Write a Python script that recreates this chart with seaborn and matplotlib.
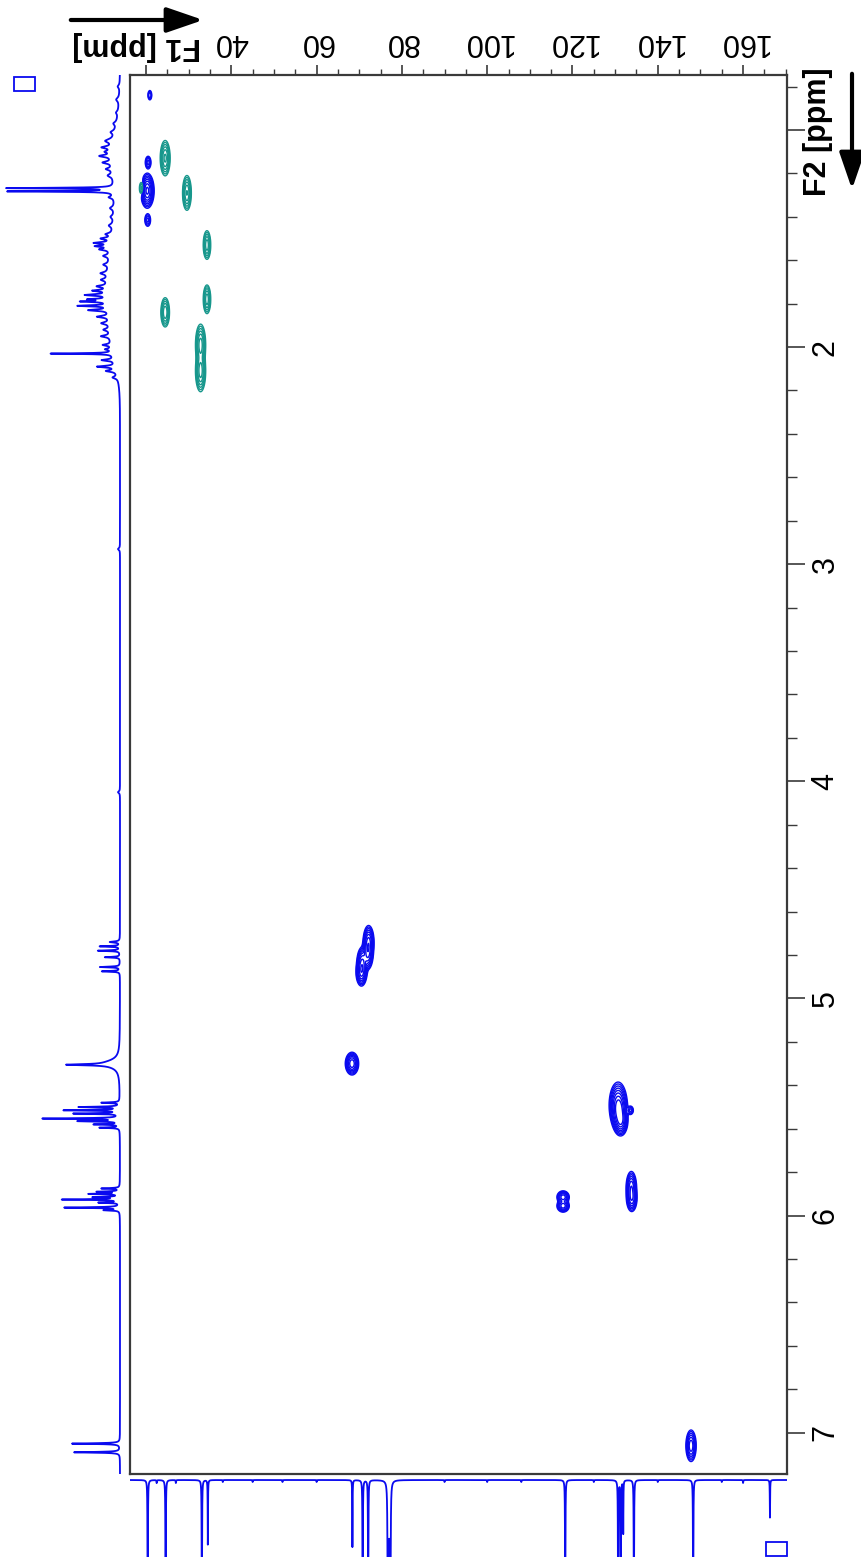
import numpy as np
import pandas as pd
import matplotlib
matplotlib.use("Agg")
import matplotlib.pyplot as plt
from matplotlib.patches import Rectangle, FancyArrowPatch
import seaborn as sns

# ---------------- data ----------------
# axis ranges (ppm)
F1_RANGE = (16.25, 170.3)      # 13C
F2_RANGE = (0.747, 7.19)       # 1H
F1_TICKS = [20, 40, 60, 80, 100, 120, 140, 160]
F1_TICK_LABELS = ["", "40", "60", "80", "100", "120", "140", "160"]
F2_TICKS = [1, 2, 3, 4, 5, 6, 7]
F2_TICK_LABELS = ["", "2", "3", "4", "5", "6", "7"]

# HSQC cross peaks: 13C shift, 1H shift, 13C width, 1H width, amplitude (sign = phase)
XP_F1 = [20.9, 20.5, 20.3, 20.4, 19.2, 24.5, 29.6, 34.3, 34.3, 24.5, 32.8, 32.8,
         72.2, 72.0, 70.7, 70.5, 68.3, 117.8, 117.8, 130.7, 131.0, 131.4, 133.6, 133.8, 133.9, 147.8]
XP_F2 = [0.84, 1.15, 1.28, 1.415, 1.27, 1.13, 1.29, 1.53, 1.78, 1.84, 1.99, 2.11,
         4.74, 4.79, 4.84, 4.88, 5.30, 5.915, 5.955, 5.49, 5.53, 5.565, 5.515, 5.87, 5.92, 7.06]
XP_W1 = [0.25, 0.35, 0.6, 0.35, 0.4, 0.5, 0.45, 0.4, 0.4, 0.45, 0.5, 0.5,
         0.5, 0.5, 0.5, 0.5, 0.6, 0.6, 0.6, 0.8, 0.7, 0.6, 0.35, 0.5, 0.5, 0.5]
XP_W2 = [0.012, 0.015, 0.03, 0.015, 0.02, 0.035, 0.035, 0.03, 0.03, 0.03, 0.04, 0.04,
         0.03, 0.03, 0.03, 0.025, 0.02, 0.012, 0.012, 0.04, 0.035, 0.025, 0.01, 0.03, 0.025, 0.03]
XP_AMP = [0.4, 0.5, 3.0, 0.5, -0.6, -1.2, -1.1, -0.9, -0.9, -1.0, -1.4, -1.4,
          2.0, 2.0, 2.0, 1.8, 2.5, 1.5, 1.5, 2.5, 2.5, 2.0, 0.5, 1.6, 1.6, 1.5]

# 1D 1H projection: position (ppm), height, half width (ppm)
H_POS = [0.80, 0.86, 0.92, 0.97, 1.01, 1.05, 1.08, 1.10, 1.12, 1.15, 1.18, 1.21,
         1.268, 1.283, 1.31, 1.36, 1.40, 1.44,
         1.48, 1.50, 1.52, 1.535, 1.55, 1.58, 1.62, 1.66, 1.69,
         1.72, 1.74, 1.76, 1.78, 1.79, 1.81, 1.83, 1.86, 1.89, 1.92,
         1.95, 1.99, 2.01, 2.03, 2.06, 2.09, 2.11, 2.14, 2.93, 4.05,
         4.74, 4.76, 4.78, 4.81, 4.855, 4.875, 5.30, 5.305,
         5.48, 5.50, 5.515, 5.53, 5.553, 5.565, 5.58, 5.595,
         5.875, 5.89, 5.90, 5.915, 5.926, 5.94, 5.963, 5.975,
         7.05, 7.09]
H_HEIGHT = [2, 3, 2, 3, 4, 8, 10, 6, 12, 9, 6, 5,
            106, 106, 5, 4, 3, 4,
            6, 10, 16, 14, 10, 6, 5, 7, 6,
            10, 14, 22, 18, 26, 30, 20, 12, 8, 6,
            9, 8, 6, 62, 12, 18, 10, 5, 2, 2,
            10, 20, 22, 15, 20, 18, 15, 40,
            18, 40, 55, 45, 76, 40, 25, 20,
            18, 22, 30, 25, 57, 20, 55, 15,
            48, 46]
H_WIDTH = [0.008, 0.01, 0.008, 0.008, 0.008, 0.01, 0.006, 0.006, 0.006, 0.006, 0.006, 0.008,
           0.002, 0.002, 0.006, 0.008, 0.008, 0.008,
           0.006, 0.005, 0.004, 0.004, 0.005, 0.006, 0.006, 0.006, 0.006,
           0.005, 0.004, 0.004, 0.003, 0.003, 0.003, 0.004, 0.005, 0.006, 0.006,
           0.005, 0.004, 0.004, 0.002, 0.004, 0.004, 0.005, 0.006, 0.005, 0.005,
           0.003, 0.002, 0.002, 0.002, 0.002, 0.002, 0.02, 0.003,
           0.002, 0.002, 0.002, 0.002, 0.002, 0.002, 0.002, 0.002,
           0.002, 0.002, 0.002, 0.002, 0.002, 0.002, 0.002, 0.002,
           0.002, 0.002]
# broad aliphatic envelope: centers, heights, half widths
HUMP_POS = [1.12, 1.45, 1.72, 1.98]
HUMP_HEIGHT = [7, 5, 11, 7]
HUMP_WIDTH = [0.12, 0.15, 0.14, 0.1]

# 1D 13C projection: position (ppm), height, half width (ppm)
C_POS = [20.4, 24.6, 33.1, 34.5, 68.4, 70.8, 72.1, 76.7, 77.0, 77.3,
         118.3, 130.7, 131.3, 131.9, 134.4, 148.3, 166.3,
         22.5, 27.0, 38.0, 45.0, 52.0, 60.0, 90.0, 100.0, 108.0, 125.0, 140.0, 155.0, 160.0]
C_HEIGHT = [200, 200, 200, 65, 67, 200, 200, 200, 200, 200,
            200, 200, 200, 53, 200, 200, 38,
            3, 3, 2, 2, 2, 2, 2, 2, 2, 2, 2, 2, 3]
C_WIDTH = [0.04, 0.04, 0.04, 0.04, 0.04, 0.04, 0.04, 0.06, 0.06, 0.06,
           0.04, 0.04, 0.04, 0.04, 0.04, 0.04, 0.04,
           0.05, 0.05, 0.05, 0.05, 0.05, 0.05, 0.05, 0.05, 0.05, 0.05, 0.05, 0.05, 0.05]

BLUE = "#0a0aef"
TEAL = "#17978c"
FRAME = "#3a3a3a"

# ---------------- figure ----------------
sns.set_theme(style="white")
plt.rcParams["font.family"] = ["Liberation Sans", "DejaVu Sans"]
plt.rcParams["text.color"] = "black"

W, H = 862, 1557
fig = plt.figure(figsize=(W / 100, H / 100), dpi=100)

def rect(x0, y0, x1, y1):
    return [x0 / W, 1 - y1 / H, (x1 - x0) / W, (y1 - y0) / H]

ax = fig.add_axes(rect(130, 75, 787, 1474))
ax_h = fig.add_axes(rect(0, 75, 125, 1474), sharey=ax)
ax_c = fig.add_axes(rect(130, 1476, 787, 1557), sharex=ax)

# ---- 2D spectrum ----
f1 = np.linspace(F1_RANGE[0], F1_RANGE[1], 1400)
f2 = np.linspace(F2_RANGE[0], F2_RANGE[1], 2600)
Z = np.zeros((f2.size, f1.size))
for c1, c2, w1, w2, a in zip(XP_F1, XP_F2, XP_W1, XP_W2, XP_AMP):
    g1 = np.exp(-0.5 * ((f1 - c1) / w1) ** 2)
    g2 = np.exp(-0.5 * ((f2 - c2) / w2) ** 2)
    Z += a * np.outer(g2, g1)

levels = [0.08, 0.14, 0.24, 0.4, 0.65, 1.05, 1.7, 2.6]
ax.contour(f1, f2, Z, levels=levels, colors=BLUE, linewidths=1.0)
ax.contour(f1, f2, -Z, levels=levels, colors=TEAL, linewidths=1.0)

ax.set_xlabel("")
ax.set_ylabel("")
ax.xaxis.tick_top()
ax.yaxis.tick_right()
ax.set_xticks(F1_TICKS)
ax.set_xticklabels(F1_TICK_LABELS)
ax.set_xticks(np.arange(20, 171, 5), minor=True)
ax.set_yticks(F2_TICKS)
ax.set_yticklabels(F2_TICK_LABELS)
ax.set_yticks(np.arange(0.8, 7.19, 0.2), minor=True)
ax.tick_params(axis="x", which="major", top=True, bottom=False, direction="out",
               length=7, width=1.2, color=FRAME, labelsize=22, labelrotation=180,
               pad=6, labelcolor="black")
ax.tick_params(axis="x", which="minor", top=True, bottom=False, direction="out",
               length=4, width=1.0, color=FRAME)
ax.tick_params(axis="y", which="major", right=True, left=False, direction="out",
               length=13, width=1.2, color=FRAME, labelsize=22, labelrotation=90,
               pad=4, labelcolor="black")
ax.tick_params(axis="y", which="minor", right=True, left=False, direction="out",
               length=7, width=1.0, color=FRAME)
for lab in ax.get_yticklabels():
    lab.set_verticalalignment("center")
for sp in ax.spines.values():
    sp.set_color(FRAME)
    sp.set_linewidth(1.6)
    sp.set_visible(True)
ax.grid(False)

# ---- 1H projection (left) ----
ph = np.linspace(F2_RANGE[0], F2_RANGE[1], 14000)
ih = np.zeros_like(ph)
for p, h, w in zip(HUMP_POS, HUMP_HEIGHT, HUMP_WIDTH):
    ih += h * np.exp(-0.5 * ((ph - p) / w) ** 2)
for p, h, w in zip(H_POS, H_HEIGHT, H_WIDTH):
    ih += h * w ** 2 / ((ph - p) ** 2 + w ** 2)
df_h = pd.DataFrame({"ppm": ph, "intensity": ih})
sns.lineplot(data=df_h, x="intensity", y="ppm", sort=False, estimator=None,
             orient="y", color=BLUE, linewidth=1.3, ax=ax_h)
ax_h.set_xlim(120, -5)
ax_h.axis("off")

# ---- 13C projection (bottom) ----
pc = np.linspace(F1_RANGE[0], F1_RANGE[1], 16000)
ic = np.zeros_like(pc)
for p, h, w in zip(C_POS, C_HEIGHT, C_WIDTH):
    ic += h * w ** 2 / ((pc - p) ** 2 + w ** 2)
df_c = pd.DataFrame({"ppm": pc, "intensity": ic})
sns.lineplot(data=df_c, x="ppm", y="intensity", sort=False, estimator=None,
             color=BLUE, linewidth=1.3, ax=ax_c)
ax_c.set_ylim(77, -4)
ax_c.axis("off")
ax.set_xlim(*F1_RANGE)
ax.set_ylim(F2_RANGE[1], F2_RANGE[0])

# ---- axis titles and direction arrows ----
fig.text(137 / W, 1 - 46 / H, "F1 [ppm]", rotation=180, fontsize=22,
         fontweight="bold", ha="center", va="center", color="black")
fig.text(818 / W, 1 - 132 / H, "F2 [ppm]", rotation=90, fontsize=22,
         fontweight="bold", ha="center", va="center", color="black")
fig.patches.append(FancyArrowPatch(
    (68 / W, 1 - 20 / H), (206 / W, 1 - 20 / H), transform=fig.transFigure,
    arrowstyle="-|>,head_length=1.6,head_width=0.55", mutation_scale=14,
    color="black", linewidth=3))
fig.patches.append(FancyArrowPatch(
    (852 / W, 1 - 71 / H), (852 / W, 1 - 192 / H), transform=fig.transFigure,
    arrowstyle="-|>,head_length=1.6,head_width=0.55", mutation_scale=14,
    color="black", linewidth=3))

# projection markers
for x0, y0 in [(14, 77), (766, 1542)]:
    fig.patches.append(Rectangle((x0 / W, 1 - (y0 + 14) / H), 21 / W, 14 / H,
                                 transform=fig.transFigure, fill=False,
                                 edgecolor=BLUE, linewidth=1.3))

fig.savefig("out.png", dpi=100)
